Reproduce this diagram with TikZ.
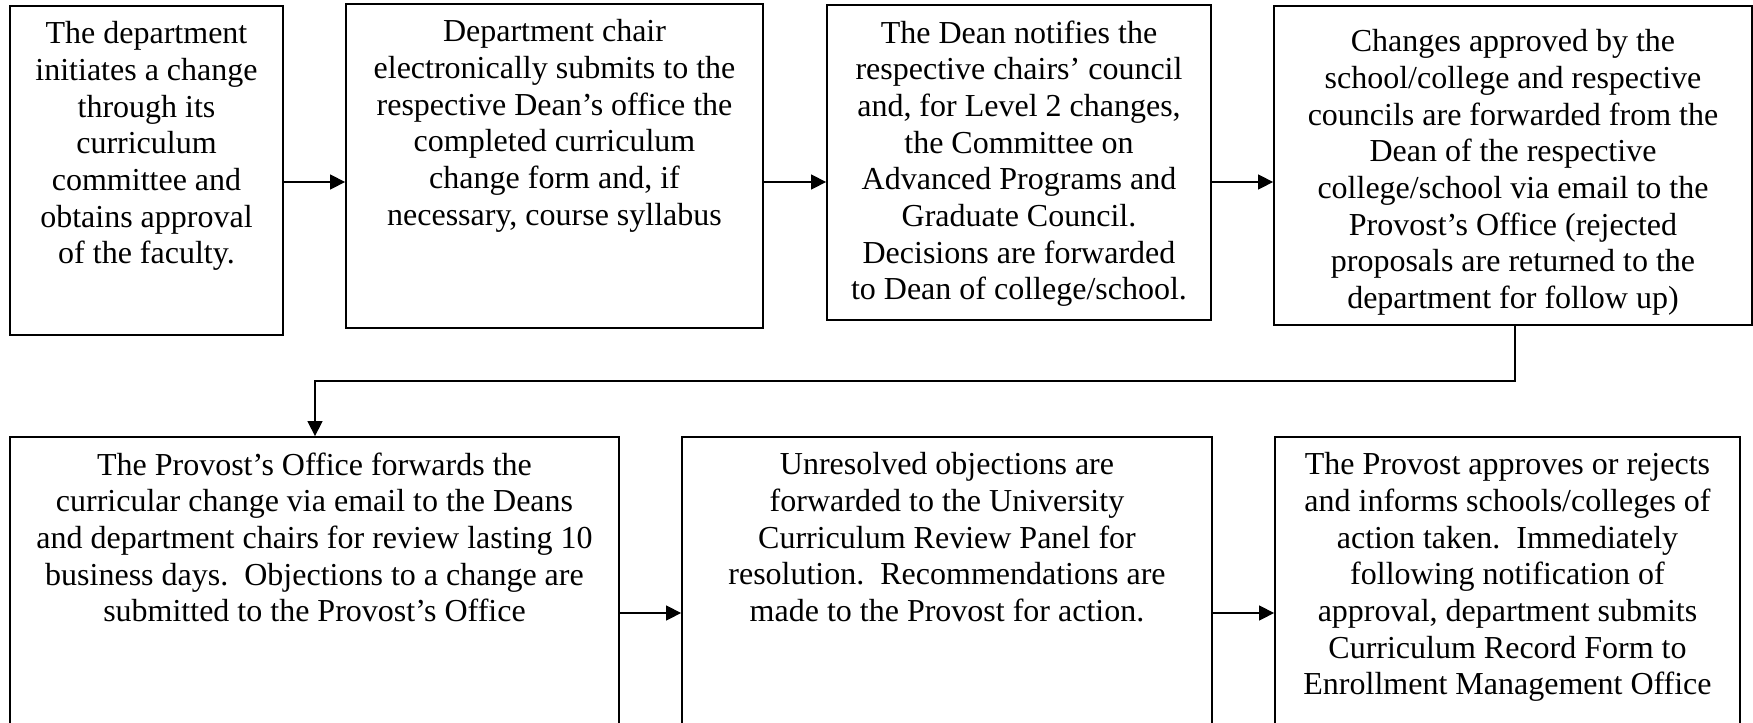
\documentclass[tikz,border=0pt]{standalone}
\usepackage{fontspec}
\setmainfont{Liberation Serif}
\usetikzlibrary{arrows.meta,fit}
\tikzset{
  box/.style={draw=black, line width=0.9pt, inner sep=0pt, rectangle},
  txt/.style={anchor=north, align=center, inner sep=0pt, font=\fontsize{16}{18.35}\selectfont},
  arr/.style={draw=black, line width=0.7pt, -{Triangle[length=7.5pt,width=7.5pt]}}
}
\begin{document}
\begin{tikzpicture}[x=0.5pt,y=-0.5pt]
\useasboundingbox (0,0) rectangle (1753,723);
\clip (0,0) rectangle (1753,723);
% boxes
\node[box, fit={(10,6) (283,335)}] (b1) {};
\node[box, fit={(346,4) (763,328)}] (b2) {};
\node[box, fit={(827,5) (1211,320)}] (b3) {};
\node[box, fit={(1274,6) (1752,325)}] (b4) {};
\node[box, fit={(10,437) (619,760)}] (b5) {};
\node[box, fit={(682,437) (1212,760)}] (b6) {};
\node[box, fit={(1275,437) (1740,760)}] (b7) {};
% texts
\node[txt] (t1) at ([yshift=-8pt]b1.north) {The department\\initiates a change\\through its\\curriculum\\committee and\\obtains approval\\of the faculty.};
\node[txt] (t2) at ([yshift=-8pt]b2.north) {Department chair\\electronically submits to the\\respective Dean’s office the\\completed curriculum\\change form and, if\\necessary, course syllabus};
\node[txt] (t3) at ([yshift=-8pt]b3.north) {The Dean notifies the\\respective chairs’ council\\and, for Level 2 changes,\\the Committee on\\Advanced Programs and\\Graduate Council.\\Decisions are forwarded\\to Dean of college/school.};
\node[txt] (t4) at ([yshift=-12pt]b4.north) {Changes approved by the\\school/college and respective\\councils are forwarded from the\\Dean of the respective\\college/school via email to the\\Provost’s Office (rejected\\proposals are returned to the\\department for follow up)};
\node[txt] (t5) at ([yshift=-8pt]b5.north) {The Provost’s Office forwards the\\curricular change via email to the Deans\\and department chairs for review lasting 10\\business days.\ \ Objections to a change are\\submitted to the Provost’s Office};
\node[txt] (t6) at ([yshift=-8pt]b6.north) {Unresolved objections are\\forwarded to the University\\Curriculum Review Panel for\\resolution.\ \ Recommendations are\\made to the Provost for action.};
\node[txt] (t7) at ([yshift=-8pt]b7.north) {The Provost approves or rejects\\and informs schools/colleges of\\action taken.\ \ Immediately\\following notification of\\approval, department submits\\Curriculum Record Form to\\Enrollment Management Office};
% connector levels
\coordinate (r1) at (0,182);
\coordinate (r2) at (0,613);
\coordinate (k1) at (1515,381);
\coordinate (k2) at (315,381);
% connectors
\draw[arr] (b1.east |- r1) -- (b2.west |- r1);
\draw[arr] (b2.east |- r1) -- (b3.west |- r1);
\draw[arr] (b3.east |- r1) -- (b4.west |- r1);
\draw[arr] (b4.south -| k1) -- (k1) -- (k2) -- (k2 |- b5.north);
\draw[arr] (b5.east |- r2) -- (b6.west |- r2);
\draw[arr] (b6.east |- r2) -- (b7.west |- r2);
\end{tikzpicture}
\end{document}
